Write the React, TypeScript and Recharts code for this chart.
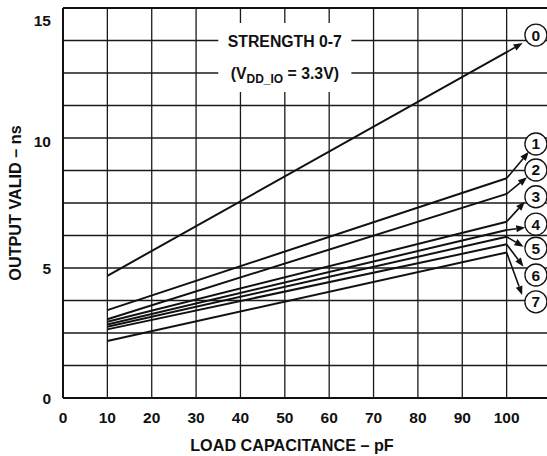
import React from "react";
import {
  LineChart,
  Line,
  CartesianGrid,
  XAxis,
  YAxis,
  ReferenceArea,
  ReferenceLine,
  ReferenceDot,
} from "recharts";

// load capacitance (pF) at which each curve was read
const capacitance = [10, 100];

// output valid time (ns) per drive strength
const strength0 = [4.7, 13.3];
const strength1 = [3.38, 8.45];
const strength2 = [3.03, 7.85];
const strength3 = [2.93, 6.78];
const strength4 = [2.83, 6.46];
const strength5 = [2.74, 6.2];
const strength6 = [2.64, 5.91];
const strength7 = [2.19, 5.6];

const series = [
  strength0,
  strength1,
  strength2,
  strength3,
  strength4,
  strength5,
  strength6,
  strength7,
];
const strengthNames = ["0", "1", "2", "3", "4", "5", "6", "7"];

const xTicks = [0, 10, 20, 30, 40, 50, 60, 70, 80, 90, 100];
const yTicks = [0, 1.25, 2.5, 3.75, 5, 6.25, 7.5, 8.75, 10, 11.25, 12.5, 13.75, 15];
const yLabels = [0, 5, 10, 15];

// callout circles and where the arrows land next to them
const calloutX = 106.6;
const calloutY = [13.96, 9.77, 8.77, 7.74, 6.69, 5.76, 4.73, 3.7];
const arrowTipX = [103.6, 105.0, 104.6, 104.1, 104.2, 103.8, 103.8, 103.5];
const arrowTipY = [13.65, 9.47, 8.49, 7.55, 6.56, 5.82, 5.05, 3.96];

const rows = capacitance.map((c, i) => {
  const row: Record<string, number> = { c };
  series.forEach((s, k) => {
    row["s" + k] = s[i];
  });
  return row;
});

const ink = "#111";
const font = "'Liberation Sans', Arial, Helvetica, sans-serif";

const YTick = (props: any) => {
  const { x, y, payload } = props;
  const v = payload.value;
  if (!yLabels.includes(v)) return null;
  const shift = v === 15 ? 12 : v === 10 ? 3 : 0;
  return (
    <text
      x={x}
      y={y + shift}
      dy="0.355em"
      textAnchor="end"
      fill={ink}
      fontSize={15.5}
      fontWeight="bold"
      fontFamily={font}
    >
      {v}
    </text>
  );
};

const Arrow = (p: any) => {
  const x1 = Number(p.x1);
  const y1 = Number(p.y1);
  const x2 = Number(p.x2);
  const y2 = Number(p.y2);
  const a = Math.atan2(y2 - y1, x2 - x1);
  const cos = Math.cos(a);
  const sin = Math.sin(a);
  const len = 9;
  const w = 3.5;
  const bx = x2 - len * cos;
  const by = y2 - len * sin;
  const pts = `${x2},${y2} ${bx - w * sin},${by + w * cos} ${bx + w * sin},${by - w * cos}`;
  return (
    <g>
      <line x1={x1} y1={y1} x2={bx} y2={by} stroke={ink} strokeWidth={1.6} />
      <polygon points={pts} fill={ink} />
    </g>
  );
};

const Note = (p: any) => {
  const vb = p.viewBox || { x: 218, y: 23, width: 134, height: 69 };
  const cx = vb.x + vb.width / 2;
  return (
    <g fontFamily={font} fontWeight="bold" fill={ink}>
      <text x={cx} y={vb.y + 18} dy="0.355em" textAnchor="middle" fontSize={15.8}>
        STRENGTH 0-7
      </text>
      <text x={cx} y={vb.y + 50} dy="0.355em" textAnchor="middle" fontSize={15.8}>
        (V
        <tspan fontSize={12} dy={4}>
          DD_IO
        </tspan>
        <tspan dy={-4}> = 3.3V)</tspan>
      </text>
    </g>
  );
};

const XTitle = (p: any) => {
  const vb = p.viewBox || { x: 63, y: 398, width: 488, height: 58 };
  return (
    <text
      x={vb.x + 229}
      y={vb.y + 47}
      dy="0.355em"
      textAnchor="middle"
      fill={ink}
      fontSize={16.2}
      fontWeight="bold"
      fontFamily={font}
    >
      LOAD CAPACITANCE – pF
    </text>
  );
};

const YTitle = (p: any) => {
  const vb = p.viewBox || { x: 0, y: 8, width: 63, height: 390 };
  const x = vb.x + 15;
  const y = vb.y + vb.height / 2;
  return (
    <text
      x={x}
      y={y}
      dy="0.355em"
      textAnchor="middle"
      transform={`rotate(-90, ${x}, ${y})`}
      fill={ink}
      fontSize={16.2}
      fontWeight="bold"
      fontFamily={font}
    >
      OUTPUT VALID – ns
    </text>
  );
};

export default function App() {
  return (
    <div
      style={{
        position: "absolute",
        left: 0,
        top: 0,
        width: 547,
        height: 456,
        overflow: "hidden",
        background: "#fff",
      }}
    >
      <LineChart
        width={560}
        height={456}
        data={rows}
        margin={{ top: 8, right: 9, bottom: 0, left: 0 }}
        style={{ fontFamily: font }}
      >
        <CartesianGrid stroke="#1a1a1a" strokeWidth={1.3} />
        <XAxis
          dataKey="c"
          type="number"
          domain={[0, 110]}
          ticks={xTicks}
          height={58}
          tickSize={0}
          tickMargin={14}
          axisLine={{ stroke: ink, strokeWidth: 2 }}
          tick={{ fill: ink, fontSize: 15.5, fontWeight: "bold" }}
          label={{ content: XTitle }}
        />
        <YAxis
          type="number"
          domain={[0, 15]}
          ticks={yTicks}
          width={63}
          tickSize={0}
          tickMargin={12}
          axisLine={{ stroke: ink, strokeWidth: 2 }}
          tick={YTick}
          interval={0}
          label={{ content: YTitle }}
        />
        <ReferenceLine y={15} stroke={ink} strokeWidth={2} />
        <ReferenceArea
          x1={35}
          x2={65}
          y1={11.77}
          y2={14.42}
          fill="#fff"
          fillOpacity={1}
          stroke="none"
          label={Note}
        />
        {series.map((_s, k) => (
          <Line
            key={k}
            dataKey={"s" + k}
            type="linear"
            stroke={ink}
            strokeWidth={2}
            dot={false}
            isAnimationActive={false}
          />
        ))}
        {series.map((s, k) => (
          <ReferenceLine
            key={"a" + k}
            segment={[
              { x: capacitance[capacitance.length - 1], y: s[s.length - 1] },
              { x: arrowTipX[k], y: arrowTipY[k] },
            ]}
            stroke={ink}
            shape={Arrow}
          />
        ))}
        {strengthNames.map((name, k) => (
          <ReferenceDot
            key={"d" + k}
            x={calloutX}
            y={calloutY[k]}
            r={11}
            fill="#fff"
            stroke={ink}
            strokeWidth={1.3}
            label={{
              value: name,
              position: "center",
              fill: ink,
              fontSize: 15.5,
              fontWeight: "bold",
            }}
          />
        ))}
      </LineChart>
    </div>
  );
}
